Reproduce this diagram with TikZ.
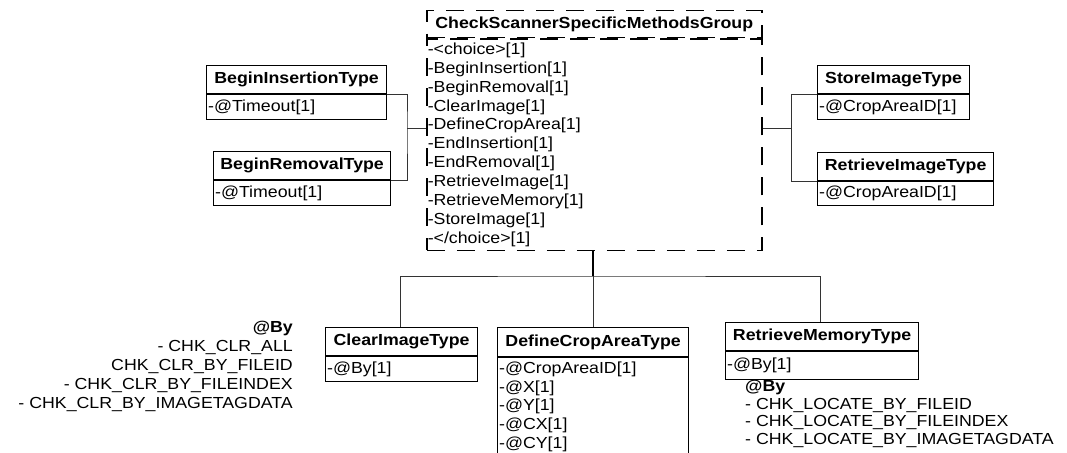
\documentclass[tikz,border=0pt]{standalone}
\usepackage{fontspec}
\setmainfont{Liberation Sans}[FakeStretch=1.11]
\begin{document}
\begin{tikzpicture}[x=1pt,y=-1pt,
  every node/.style={font=\fontsize{16}{18.9}\selectfont},
  titlebox/.style={draw, line width=1.2pt, inner sep=0pt, anchor=north west, font=\fontsize{16}{18.9}\selectfont\bfseries},
  bodybox/.style={draw, line width=1.2pt, inner xsep=1.5pt, inner ysep=0pt, anchor=north west, align=left},
  grpline/.style={draw, line width=1.5pt, dash pattern=on 18pt off 12pt},
  conn/.style={draw=black!80, line width=1pt},
  trunk/.style={draw=black, line width=2pt},
  note/.style={inner sep=0pt}
]
\useasboundingbox (0,0) rectangle (1067,452);
\clip (0,0) rectangle (1067,452);

\newcommand{\umlbox}[8]{%
  \pgfmathsetmacro{\umlw}{#4}%
  \pgfmathsetmacro{\umltw}{#4-3}%
  \node[titlebox, minimum width=\umlw pt, minimum height=#5pt] (#1) at (#2,#3) {#7};
  \node[bodybox, minimum width=\umlw pt, minimum height=#6pt, text width=\umltw pt] (#1-b) at (#1.south west) {#8};
}

% main group box
\node[grpline, inner sep=0pt, anchor=north west, minimum width=335pt, minimum height=27pt, font=\fontsize{16}{18.9}\selectfont\bfseries] (grp) at (426,10) {CheckScannerSpecificMethodsGroup};
\node[grpline, inner xsep=1pt, inner ysep=0pt, anchor=north west, minimum width=335pt, minimum height=211pt, text width=333pt, align=left] (grp-b) at (grp.south west) {-<choice>[1]\\-BeginInsertion[1]\\-BeginRemoval[1]\\-ClearImage[1]\\-DefineCropArea[1]\\-EndInsertion[1]\\-EndRemoval[1]\\-RetrieveImage[1]\\-RetrieveMemory[1]\\-StoreImage[1]\\-</choice>[1]};

% class boxes
\umlbox{bi}{206}{65}{180}{28}{25}{BeginInsertionType}{-@Timeout[1]}
\umlbox{br}{213}{151}{177}{28}{25}{BeginRemovalType}{-@Timeout[1]}
\umlbox{si}{817}{65}{152}{28}{25}{StoreImageType}{-@CropAreaID[1]}
\umlbox{ri}{817}{152}{176}{28}{24}{RetrieveImageType}{-@CropAreaID[1]}
\umlbox{ci}{325}{327}{152}{28}{25}{ClearImageType}{-@By[1]}
\umlbox{dc}{497}{327}{191}{29}{98}{DefineCropAreaType}{-@CropAreaID[1]\\-@X[1]\\-@Y[1]\\-@CX[1]\\-@CY[1]}
\umlbox{rm}{725}{322}{193}{28}{28}{RetrieveMemoryType}{-@By[1]}

% enumeration notes
\node[note, anchor=east, align=right, font=\fontsize{16}{19}\selectfont] (n1) at (293,366) {\textbf{@By}\\- CHK\_CLR\_ALL\\CHK\_CLR\_BY\_FILEID\\- CHK\_CLR\_BY\_FILEINDEX\\- CHK\_CLR\_BY\_IMAGETAGDATA};
\node[note, anchor=west, align=left, font=\fontsize{16}{17.4}\selectfont] (n2) at (745,414) {\textbf{@By}\\- CHK\_LOCATE\_BY\_FILEID\\- CHK\_LOCATE\_BY\_FILEINDEX\\- CHK\_LOCATE\_BY\_IMAGETAGDATA};

% connectors left
\coordinate (lj) at (407,128);
\draw[conn] (grp-b.west |- lj) -- (lj);
\draw[conn] (bi.south east) -| (lj) |- (br.south east);
% connectors right
\coordinate (rj) at (791,128);
\draw[conn] (grp-b.east |- rj) -- (rj);
\draw[conn] (si.south west) -| (rj) |- (ri.south west);
% connectors bottom
\coordinate (bj) at (593,276);
\draw[trunk] (grp-b.south -| bj) -- (bj);
\draw[conn] (ci.north -| 400,0) |- (bj) -| (rm.north -| 820,0);
\draw[conn] (bj) -- (dc.north -| bj);
\end{tikzpicture}
\end{document}
